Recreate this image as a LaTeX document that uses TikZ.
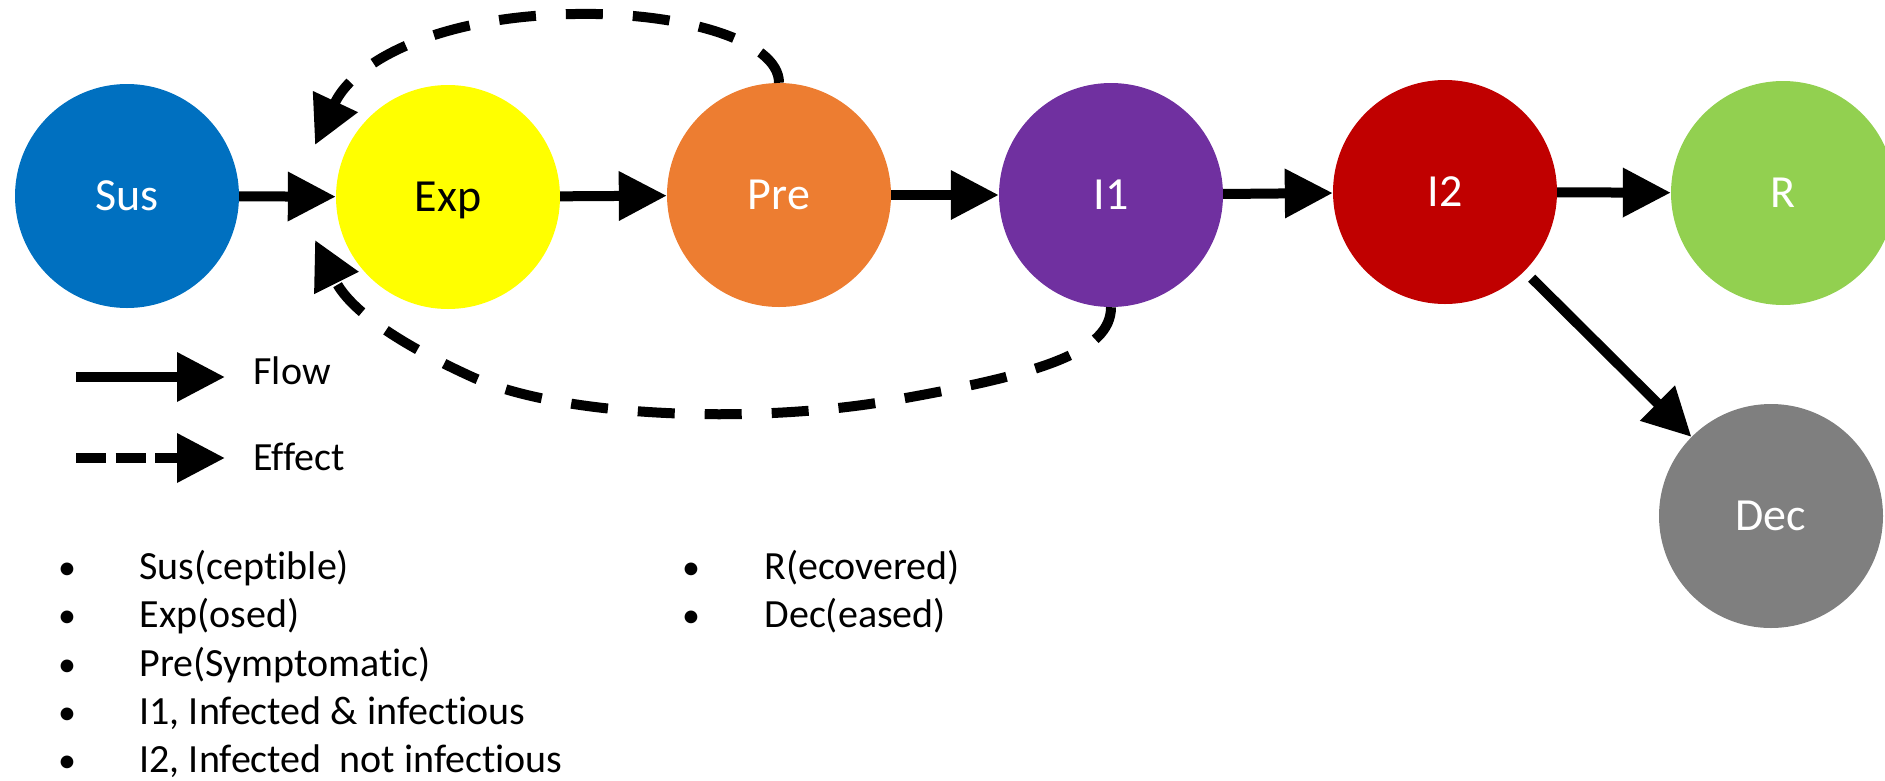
\documentclass[tikz,border=0pt]{standalone}
\usepackage{fontspec}
\setmainfont{Carlito}[Ligatures=NoCommon]
\usetikzlibrary{arrows.meta}
\definecolor{cSus}{HTML}{0070C0}
\definecolor{cExp}{HTML}{FFFF00}
\definecolor{cPre}{HTML}{ED7D31}
\definecolor{cIone}{HTML}{7030A0}
\definecolor{cItwo}{HTML}{C00000}
\definecolor{cR}{HTML}{92D050}
\definecolor{cDec}{HTML}{7F7F7F}
\tikzset{
  comp/.style={circle, minimum size=224pt, inner sep=0pt, text height=29pt, text depth=0pt,
    font=\fontsize{46}{52}\selectfont, text=white},
  flow/.style={line width=10pt, -{Triangle[length=48pt,width=47pt]}},
  effect/.style={flow, dash pattern=on 37pt off 30pt},
  legtext/.style={anchor=base west, font=\fontsize{40}{46}\selectfont},
  listtext/.style={anchor=base west, font=\fontsize{40}{46}\selectfont},
  bulletmark/.style={anchor=base, font=\fontsize{36}{42}\selectfont},
}
\begin{document}
\begin{tikzpicture}[x=1pt,y=-1pt]
\useasboundingbox (0,0) rectangle (1885,780);
\node[comp, fill=cSus] (Sus) at (127,196) {Sus};
\node[comp, fill=cExp, text=black] (Exp) at (448,197) {Exp};
\node[comp, fill=cPre] (Pre) at (779,195) {Pre};
\node[comp, fill=cIone] (I1) at (1111,195) {I1};
\node[comp, fill=cItwo] (I2) at (1445,192) {I2};
\node[comp, fill=cR] (R) at (1783,193) {R};
\node[comp, fill=cDec] (Dec) at (1771,516) {Dec};

\draw[flow] (Sus) -- (Exp);
\draw[flow] (Exp) -- (Pre);
\draw[flow] (Pre) -- (I1);
\draw[flow] (I1) -- (I2);
\draw[flow] (I2) -- (R);
\draw[flow, shorten <=10pt] (I2) -- (Dec);

\coordinate (tipA) at (315,145);
\coordinate (tipB) at (315,240);
\draw[effect] (Pre.north) .. controls (779,40) and (680,12) .. (575,14)
  .. controls (440,16) and (355,60) .. (tipA);
\draw[effect] (I1.south) .. controls (1111,352) and (1040,374) .. (900,399)
  .. controls (760,425) and (560,418) .. (470,376)
  .. controls (398,343) and (350,310) .. (tipB);

\coordinate (fA) at (76,377);
\coordinate (fB) at (225,377);
\draw[flow] (fA) -- (fB);
\node[legtext] (flowlbl) at (250,384) {Flow};
\coordinate (eA) at (76,458);
\coordinate (eB) at (225,458);
\draw[flow, dash pattern=on 30pt off 9.5pt] (eA) -- (eB);
\node[legtext] (efflbl) at (250,470) {Effect};

\node[bulletmark] (b1) at (67,579) {•};
\node[listtext] (l1) at (136,579) {Sus(ceptible)};
\node[bulletmark] (b2) at (67,627) {•};
\node[listtext] (l2) at (136,627) {Exp(osed)};
\node[bulletmark] (b3) at (67,676) {•};
\node[listtext] (l3) at (136,676) {Pre(Symptomatic)};
\node[bulletmark] (b4) at (67,724) {•};
\node[listtext] (l4) at (136,724) {I1, Infected \& infectious};
\node[bulletmark] (b5) at (67,772) {•};
\node[listtext] (l5) at (136,772) {I2, Infected~~not infectious};
\node[bulletmark] (b6) at (691,579) {•};
\node[listtext] (l6) at (761,579) {R(ecovered)};
\node[bulletmark] (b7) at (691,627) {•};
\node[listtext] (l7) at (761,627) {Dec(eased)};
\end{tikzpicture}
\end{document}
